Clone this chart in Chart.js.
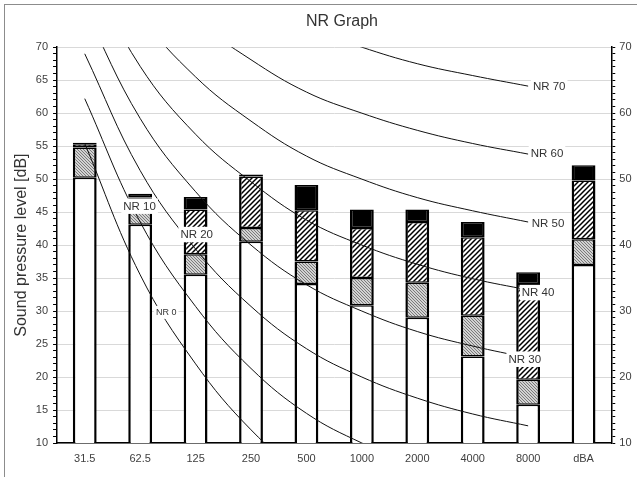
<!DOCTYPE html>
<html>
<head>
<meta charset="utf-8">
<script src="https://cdn.jsdelivr.net/npm/chart.js@4.4.0/dist/chart.umd.min.js"></script>
<style>
  html, body { margin: 0; padding: 0; background: #fff; overflow: hidden; }
  #wrap { position: relative; width: 637px; height: 477px; }
  #frame { position: absolute; left: 4px; top: 4px; right: 0; bottom: 0;
           border-left: 1px solid #8c8c8c; border-top: 1px solid #8c8c8c; pointer-events: none; }
</style>
</head>
<body>
<div id="wrap">
  <canvas id="nr" width="637" height="477"></canvas>
  <div id="frame"></div>
</div>
<script>
// octave bands + overall
var categories = ["31.5", "62.5", "125", "250", "500", "1000", "2000", "4000", "8000", "dBA"];

// stacked bar parts (dB)
var baseLevel = [50.2, 43.1, 35.5, 40.5, 34.1, 30.9, 29.0, 23.1, 15.8, 37.0];
var fineBand  = [4.6, 1.9, 3.1, 2.1, 3.4, 4.1, 5.3, 6.2, 3.8, 3.9];
var hatchBand = [0.5, 2.2, 6.8, 7.8, 7.8, 7.6, 9.2, 11.9, 14.5, 8.9];
var topBand   = [0.2, 0.6, 1.9, 0.3, 3.8, 2.8, 1.9, 2.3, 1.8, 2.3];

// NR curves, 31.5 .. 8000 Hz
var nr0  = [55.4, 35.5, 22.0, 12.0, 4.8, 0.0, -3.5, -6.1, -8.0];
var nr10 = [62.2, 43.5, 30.7, 21.3, 14.5, 10.0, 6.6, 4.2, 2.2];
var nr20 = [69.0, 51.3, 39.4, 30.7, 24.3, 20.0, 16.8, 14.4, 12.6];
var nr30 = [75.8, 59.2, 48.1, 40.0, 34.0, 30.0, 26.9, 24.7, 22.9];
var nr40 = [82.6, 67.1, 56.8, 49.6, 43.8, 40.0, 37.1, 34.9, 33.2];
var nr50 = [89.4, 75.0, 65.5, 58.8, 53.5, 50.0, 47.2, 45.2, 43.5];
var nr60 = [96.3, 82.9, 74.2, 68.1, 63.2, 60.0, 57.4, 55.4, 53.8];
var nr70 = [103.1, 90.8, 82.9, 77.4, 73.0, 70.0, 67.5, 65.7, 64.1];
var nrNames = ["NR 0", "NR 10", "NR 20", "NR 30", "NR 40", "NR 50", "NR 60", "NR 70"];
var nrCurves = [nr0, nr10, nr20, nr30, nr40, nr50, nr60, nr70];

// where the curve names sit (category index, dB)
var labelSpots = [
  { text: "NR 0", at: 1.47, db: 29.8, size: 9 },
  { text: "NR 10", at: 0.99, db: 45.9, size: 11.5 },
  { text: "NR 20", at: 2.02, db: 41.6, size: 11.5 },
  { text: "NR 30", at: 7.94, db: 22.7, size: 11.5 },
  { text: "NR 40", at: 8.18, db: 32.8, size: 11.5 },
  { text: "NR 50", at: 8.36, db: 43.3, size: 11.5 },
  { text: "NR 60", at: 8.34, db: 53.9, size: 11.5 },
  { text: "NR 70", at: 8.38, db: 64.0, size: 11.5 }
];

Chart.defaults.font.family = "'Liberation Sans', Arial, sans-serif";
Chart.defaults.color = "#404040";

var ctx = document.getElementById("nr").getContext("2d");

function makePattern(kind) {
  var p = document.createElement("canvas");
  var c = p.getContext("2d");
  if (kind === "fine") {
    p.width = 3; p.height = 3;
    c.fillStyle = "#d2d2d2";
    c.fillRect(0, 0, 3, 3);
    c.fillStyle = "#7a7a7a";
    for (var i = 0; i < 3; i++) c.fillRect(i, i, 1, 1);
  } else {
    p.width = 5; p.height = 5;
    c.fillStyle = "#fff";
    c.fillRect(0, 0, 5, 5);
    c.strokeStyle = "#000";
    c.lineWidth = 1.5;
    c.beginPath();
    c.moveTo(-1, 6); c.lineTo(6, -1);
    c.moveTo(-1, 1); c.lineTo(1, -1);
    c.moveTo(4, 6); c.lineTo(6, 4);
    c.stroke();
  }
  return ctx.createPattern(p, "repeat");
}

var edge = { top: 1.5, bottom: 1.5, left: 2.5, right: 2.5 };
function barSet(label, data, fill) {
  return {
    type: "bar", label: label, data: data, stack: "m", order: 1,
    backgroundColor: fill, borderColor: "#000", borderWidth: edge, borderSkipped: false,
    barPercentage: 0.43, categoryPercentage: 1
  };
}

var datasets = [
  barSet("Base", baseLevel, "#fff"),
  barSet("Band 1", fineBand, makePattern("fine")),
  barSet("Band 2", hatchBand, makePattern("hatch")),
  barSet("Peak", topBand, "#000")
];
nrCurves.forEach(function (d, i) {
  datasets.push({
    type: "line", label: nrNames[i], data: d, order: 0,
    borderColor: "#111", borderWidth: 1, pointRadius: 0, tension: 0.4, fill: false
  });
});

var nrLabels = {
  id: "nrLabels",
  afterDatasetsDraw: function (chart) {
    var xs = chart.scales.x, ys = chart.scales.y, c = chart.ctx;
    c.save();
    labelSpots.forEach(function (s) {
      var px = xs.getPixelForValue(s.at), py = ys.getPixelForValue(s.db);
      c.font = s.size + "px 'Liberation Sans', Arial, sans-serif";
      var w = c.measureText(s.text).width;
      c.fillStyle = "#fff";
      c.fillRect(px - w / 2 - 2, py - s.size / 2 - 2, w + 4, s.size + 4);
      c.fillStyle = "#333";
      c.textAlign = "center";
      c.textBaseline = "middle";
      c.fillText(s.text, px, py + 0.5);
    });
    c.restore();
  }
};

var graphTitle = {
  id: "graphTitle",
  afterDraw: function (chart) {
    var c = chart.ctx;
    c.save();
    c.font = "16px 'Liberation Sans', Arial, sans-serif";
    c.fillStyle = "#333";
    c.textAlign = "center";
    c.textBaseline = "middle";
    c.fillText("NR Graph", 342, 22);
    c.restore();
  }
};

new Chart(ctx, {
  data: { labels: categories, datasets: datasets },
  plugins: [nrLabels, graphTitle],
  options: {
    responsive: false,
    animation: false,
    devicePixelRatio: 1,
    layout: { padding: { top: 47.2, left: 7.6, right: 1.5, bottom: 2.8 } },
    plugins: { legend: { display: false }, title: { display: false }, tooltip: { enabled: false } },
    scales: {
      x: {
        grid: { display: false, drawTicks: false },
        border: { display: true, color: "#000", width: 1.5 },
        ticks: { padding: 9, font: { size: 11 } }
      },
      y: {
        min: 10, max: 70,
        border: { color: "#000", width: 1.5 },
        grid: {
          color: function (c) { return c.tick && c.tick.value % 5 === 0 ? "#d9d9d9" : "rgba(0,0,0,0)"; },
          tickColor: "#000", tickLength: 4
        },
        ticks: {
          stepSize: 1, autoSkip: false, padding: 5, font: { size: 11 },
          callback: function (v) { return v % 5 === 0 ? v : ""; }
        },
        title: { display: true, text: "Sound pressure level [dB]", color: "#333", font: { size: 16 },
                 padding: { top: 4, bottom: 0 } }
      },
      y2: {
        position: "right", display: true, min: 10, max: 70,
        border: { color: "#000", width: 1.5 },
        grid: { drawOnChartArea: false, tickColor: "#000", tickLength: 4 },
        ticks: {
          stepSize: 1, autoSkip: false, padding: 4, font: { size: 11 },
          callback: function (v) { return v % 10 === 0 ? v : ""; }
        }
      }
    }
  }
});
</script>
</body>
</html>
